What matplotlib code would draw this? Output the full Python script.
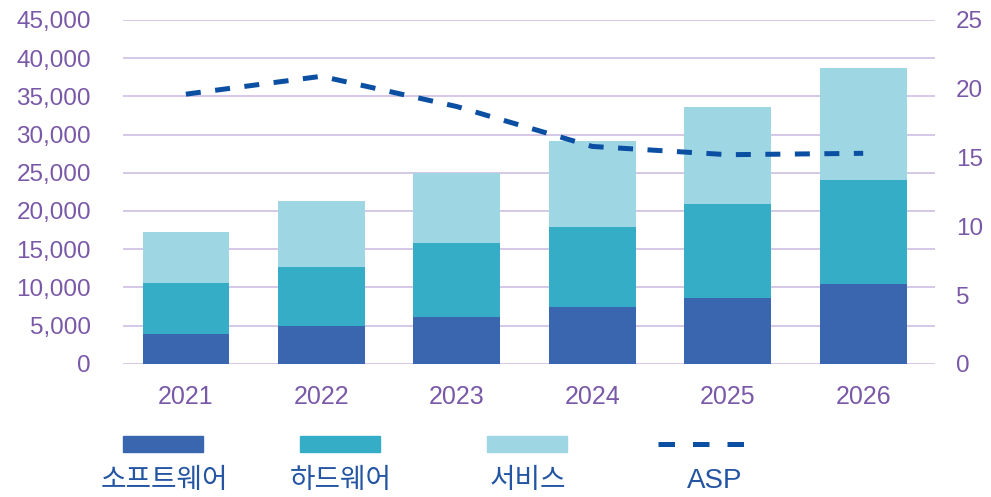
import matplotlib.pyplot as plt
import numpy as np
from matplotlib.patches import Rectangle
from matplotlib.lines import Line2D

plt.rcParams['font.family'] = ['Liberation Sans', 'Noto Sans CJK KR']

years = ["2021", "2022", "2023", "2024", "2025", "2026"]
software = [3950, 4980, 6150, 7450, 8650, 10450]
hardware = [6650, 7720, 9690, 10470, 12300, 13630]
services = [6700, 8640, 9160, 11270, 12680, 14650]
asp = [19.6, 20.9, 18.7, 15.8, 15.2, 15.3]
labels = ["소프트웨어", "하드웨어", "서비스", "ASP"]

c_sw, c_hw, c_sv, c_asp = "#3a66b0", "#35adc6", "#9fd6e4", "#0b4fa3"
purple = "#7a58a8"
grid_c = "#cdbfe3"
text_blue = "#2355a3"

fig = plt.figure(figsize=(9.91, 4.97), dpi=100)
ax = fig.add_axes([0.124, 0.268, 0.8195, 0.692])
x = np.arange(len(years))
w = 0.64

sw = np.array(software)
hw = np.array(hardware)
sv = np.array(services)
ax.bar(x, sw, w, color=c_sw, zorder=3)
ax.bar(x, hw, w, bottom=sw, color=c_hw, zorder=3)
ax.bar(x, sv, w, bottom=sw + hw, color=c_sv, zorder=3)

ax.set_ylim(0, 45000)
ax.set_yticks(range(0, 45001, 5000))
ax.set_yticklabels([f"{v:,}" for v in range(0, 45001, 5000)])
ax.set_xlim(-0.465, 5.53)
ax.set_xticks(x)
ax.set_xticklabels(years)
ax.grid(axis="y", color=grid_c, linewidth=1.2, zorder=0)
ax.tick_params(axis="y", length=0, pad=23, labelsize=17.5, labelcolor=purple)
ax.tick_params(axis="x", length=0, pad=15, labelsize=18, labelcolor=purple)
for s in ax.spines.values():
    s.set_visible(False)

ax2 = ax.twinx()
ax2.plot(x, asp, color=c_asp, linewidth=3.6, dashes=(3, 2.9), zorder=4)
ax2.set_ylim(0, 25)
ax2.set_yticks(range(0, 26, 5))
ax2.tick_params(axis="y", length=0, pad=15, labelsize=17.5, labelcolor=purple)
for s in ax2.spines.values():
    s.set_visible(False)

# legend: patch above, label below
W, H = 991, 497
legend_x = [123, 300, 487, 658]
for i, lab in enumerate(labels):
    x0 = legend_x[i]
    if i < 3:
        col = [c_sw, c_hw, c_sv][i]
        fig.patches.append(Rectangle((x0 / W, 1 - 452 / H), 80 / W, 16 / H,
                                     transform=fig.transFigure, color=col))
        cx = x0 + 41
    else:
        fig.lines.append(Line2D([x0 / W, 745 / W], [1 - 444 / H] * 2,
                                transform=fig.transFigure, color=c_asp,
                                linewidth=3.6, dashes=(3.3, 3.6)))
        cx = 715
    fig.text(cx / W, 1 - 481 / H, lab, ha="center", va="center",
             fontsize=20, color=text_blue)

fig.savefig("out.png", dpi=100)
